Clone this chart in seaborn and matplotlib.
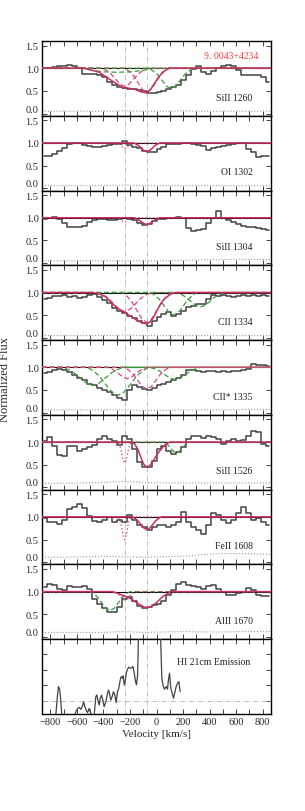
import matplotlib
matplotlib.use("Agg")
import matplotlib.pyplot as plt
import seaborn as sns
from matplotlib.ticker import MultipleLocator, FixedLocator, NullFormatter

sns.set_style("ticks")
plt.rcParams["font.family"] = ["Liberation Serif", "DejaVu Serif"]
plt.rcParams["axes.unicode_minus"] = True

# ---------------- data ----------------
SIGHTLINE = "9. 0043+4234"
LINE_NAMES = ["SiII 1260", "OI 1302", "SiII 1304", "CII 1334",
              "CII* 1335", "SiII 1526", "FeII 1608", "AlII 1670"]
COMP_V = [-240, -73]

V_BIN = [-844, -806, -769, -731, -694, -656, -619, -581, -544, -506, -469, -431,
         -394, -356, -319, -281, -244, -206, -169, -131, -94, -56, -19,
         19, 56, 94, 131, 169, 206, 244, 281, 319, 356, 394, 431, 469, 506,
         544, 581, 619, 656, 694, 731, 769, 806, 844]

SIII1260 = [1.00, 1.01, 1.03, 1.05, 1.04, 1.07, 1.05, 1.00, 0.88, 0.88, 0.87, 0.85,
            0.80, 0.70, 0.62, 0.59, 0.57, 0.55, 0.54, 0.52, 0.49, 0.46, 0.46,
            0.48, 0.50, 0.53, 0.58, 0.64, 0.73, 0.86, 0.98, 1.04, 0.92, 0.88, 0.93,
            1.00, 1.04, 1.06, 1.04, 0.97, 0.86, 0.85, 0.84, 0.85, 0.80, 0.70]
OI1302 = [0.71, 0.71, 0.75, 0.82, 0.90, 0.97, 1.01, 1.00, 0.96, 0.93, 0.91, 0.92,
          0.94, 0.96, 0.97, 0.98, 1.04, 0.96, 0.91, 0.88, 0.83, 0.80, 0.81,
          0.86, 0.92, 0.97, 0.98, 0.97, 0.99, 1.00, 0.97, 0.96, 0.93, 0.85, 0.88,
          0.92, 0.94, 0.96, 0.98, 1.00, 1.01, 0.87, 0.79, 0.69, 0.71, 0.72]
SIII1304 = [0.97, 0.99, 1.02, 0.97, 0.88, 0.80, 0.79, 0.79, 0.82, 0.90, 0.96, 0.98,
            0.97, 0.96, 0.96, 0.97, 0.99, 0.98, 0.94, 0.88, 0.85, 0.86, 0.92,
            0.97, 0.98, 0.99, 1.00, 1.01, 1.00, 0.78, 0.70, 0.72, 0.76, 0.88, 1.00,
            1.14, 0.99, 0.94, 0.91, 0.87, 0.82, 0.79, 0.80, 0.78, 0.76, 0.74]
CII1334 = [0.86, 0.89, 0.92, 0.93, 0.94, 0.90, 0.92, 0.87, 0.90, 0.95, 0.96, 0.90,
           0.84, 0.76, 0.66, 0.59, 0.54, 0.49, 0.44, 0.38, 0.33, 0.27, 0.38,
           0.45, 0.53, 0.56, 0.49, 0.53, 0.60, 0.67, 0.71, 0.74, 0.75, 0.86, 0.95,
           0.93, 0.94, 0.92, 0.90, 0.92, 0.95, 0.93, 0.94, 0.92, 0.94, 0.92]
CIIS1335 = [0.88, 0.89, 0.93, 0.96, 0.94, 0.89, 0.82, 0.76, 0.71, 0.63, 0.60, 0.54,
            0.49, 0.45, 0.38, 0.32, 0.27, 0.49, 0.60, 0.56, 0.52, 0.49, 0.54,
            0.60, 0.63, 0.67, 0.71, 0.76, 0.82, 0.93, 0.93, 0.91, 0.90, 0.92, 0.91,
            0.90, 0.91, 0.90, 0.92, 0.91, 0.94, 0.96, 1.07, 1.06, 1.04, 1.03]
SIII1526 = [1.03, 1.11, 0.92, 0.72, 0.70, 0.91, 0.91, 0.81, 0.85, 0.89, 0.94, 1.07,
            1.13, 1.07, 1.03, 0.94, 1.14, 1.07, 0.85, 0.56, 0.45, 0.46, 0.59,
            0.85, 0.91, 0.81, 0.74, 0.79, 0.89, 1.07, 1.13, 1.13, 1.10, 1.13, 1.11,
            1.07, 0.96, 1.03, 1.07, 1.03, 1.05, 1.14, 1.25, 1.22, 0.96, 0.92]
FEII1608 = [0.97, 0.88, 0.88, 0.85, 0.92, 1.18, 1.21, 1.29, 1.19, 1.01, 0.90, 0.88,
            0.92, 0.99, 0.88, 0.94, 0.88, 1.05, 0.92, 0.83, 0.77, 0.70, 0.77,
            0.81, 0.82, 0.77, 0.81, 0.88, 1.10, 0.88, 0.77, 0.70, 0.62, 0.81, 1.09,
            1.04, 0.94, 0.87, 0.94, 1.09, 1.21, 1.09, 0.92, 0.97, 0.88, 0.82]
ALII1670 = [1.10, 1.17, 1.14, 1.06, 1.03, 1.12, 1.10, 1.10, 1.12, 1.06, 0.84, 0.73,
            0.64, 0.56, 0.56, 0.66, 0.84, 0.88, 0.80, 0.69, 0.64, 0.66, 0.71,
            0.73, 0.80, 0.92, 1.03, 1.17, 1.21, 1.14, 1.12, 1.10, 1.06, 1.12, 1.14,
            1.06, 0.99, 0.92, 0.93, 0.97, 0.99, 1.08, 1.03, 0.93, 0.90, 0.90]

# error spectra (coarse)
E_V = [-862, -700, -550, -400, -250, -100, 50, 200, 350, 500, 650, 862]
ERR_SIII1260 = [0.05, 0.05, 0.05, 0.05, 0.06, 0.05, 0.05, 0.06, 0.05, 0.05, 0.05, 0.05]
ERR_OI1302 = [0.06, 0.06, 0.06, 0.06, 0.07, 0.06, 0.06, 0.06, 0.06, 0.06, 0.06, 0.06]
ERR_SIII1304 = [0.05, 0.05, 0.05, 0.05, 0.05, 0.05, 0.05, 0.06, 0.07, 0.08, 0.08, 0.08]
ERR_CII1334 = [0.05, 0.05, 0.05, 0.05, 0.06, 0.05, 0.05, 0.05, 0.05, 0.05, 0.05, 0.05]
ERR_CIIS1335 = [0.06, 0.06, 0.06, 0.06, 0.06, 0.05, 0.05, 0.06, 0.06, 0.06, 0.07, 0.07]
ERR_SIII1526 = [0.09, 0.09, 0.10, 0.11, 0.13, 0.11, 0.10, 0.10, 0.10, 0.10, 0.10, 0.10]
ERR_FEII1608 = [0.11, 0.11, 0.12, 0.13, 0.12, 0.11, 0.12, 0.13, 0.17, 0.19, 0.19, 0.17]
ERR_ALII1670 = [0.10, 0.10, 0.10, 0.10, 0.12, 0.10, 0.11, 0.12, 0.11, 0.11, 0.12, 0.12]

# model curves: (velocity, flux) knots
SIII1260_TOT = ([-862, -544, -431, -319, -256, -218, -169, -119, -73, -43, 6, 45, 95, 862],
                [1, 1, 0.91, 0.69, 0.58, 0.56, 0.54, 0.48, 0.455, 0.54, 0.76, 0.91, 1, 1])
SIII1260_R1 = ([-862, -410, -376, -342, -308, -274, -240, -206, -172, -138, -104, -70, 862],
               [1, 1, 0.95, 0.87, 0.76, 0.65, 0.60, 0.65, 0.76, 0.87, 0.95, 1, 1])
SIII1260_R2 = ([-862, -238, -205, -172, -139, -106, -73, -40, -7, 26, 59, 92, 862],
               [1, 1, 0.93, 0.83, 0.68, 0.53, 0.47, 0.53, 0.68, 0.83, 0.93, 1, 1])
SIII1260_G1 = ([-862, -560, -480, -400, -300, -200, -100, -40, 862],
               [1, 1, 0.95, 0.92, 0.91, 0.92, 0.95, 1, 1])
SIII1260_G2 = ([-862, -60, -26, 8, 42, 76, 110, 144, 178, 212, 246, 280, 862],
               [1, 1, 0.94, 0.86, 0.73, 0.60, 0.55, 0.60, 0.73, 0.86, 0.94, 1, 1])

OI1302_TOT = ([-862, -173, -153, -133, -113, -93, -73, -53, -33, -13, 7, 27, 862],
              [1, 1, 0.975, 0.94, 0.88, 0.83, 0.81, 0.83, 0.88, 0.94, 0.975, 1, 1])
OI1302_D = ([-862, -295, -284, -273, -262, -251, -240, -229, -218, -207, -196, -185, 862],
            [1, 1, 0.98, 0.96, 0.92, 0.89, 0.87, 0.89, 0.92, 0.96, 0.98, 1, 1])

SIII1304_TOT = ([-862, -173, -153, -133, -113, -93, -73, -53, -33, -13, 7, 27, 862],
                [1, 1, 0.98, 0.95, 0.91, 0.87, 0.85, 0.87, 0.91, 0.95, 0.98, 1, 1])
SIII1304_D = ([-862, -290, -280, -270, -260, -250, -240, -230, -220, -210, -200, -190, 862],
              [1, 1, 0.99, 0.97, 0.94, 0.91, 0.90, 0.91, 0.94, 0.97, 0.99, 1, 1])

CII1334_TOT = ([-862, -480, -430, -380, -319, -280, -240, -190, -144, -105, -73, -45, -19,
                5, 30, 60, 94, 120, 150, 862],
               [1, 1, 0.97, 0.90, 0.72, 0.63, 0.56, 0.47, 0.38, 0.33, 0.31, 0.36, 0.47,
                0.61, 0.74, 0.86, 0.94, 0.98, 1, 1])
CII1334_R1 = ([-862, -440, -400, -360, -320, -280, -240, -200, -160, -120, -80, -40, 862],
              [1, 1, 0.945, 0.866, 0.744, 0.63, 0.58, 0.63, 0.744, 0.866, 0.945, 1, 1])
CII1334_R2 = ([-862, -258, -221, -184, -147, -110, -73, -36, 1, 38, 75, 112, 862],
              [1, 1, 0.914, 0.79, 0.60, 0.42, 0.34, 0.42, 0.60, 0.79, 0.914, 1, 1])
CII1334_G1 = ([-862, -45, -10, 25, 60, 95, 130, 165, 200, 235, 270, 305, 862],
              [1, 1, 0.935, 0.84, 0.695, 0.56, 0.50, 0.56, 0.695, 0.84, 0.935, 1, 1])
CII1334_G2 = ([-862, 150, 186, 222, 258, 294, 330, 366, 402, 438, 474, 510, 862],
              [1, 1, 0.958, 0.898, 0.805, 0.718, 0.68, 0.718, 0.805, 0.898, 0.958, 1, 1])

CIIS1335_G1 = ([-862, -710, -664, -618, -572, -526, -480, -434, -388, -342, -296, -250, 862],
               [1, 1, 0.948, 0.872, 0.756, 0.648, 0.60, 0.648, 0.756, 0.872, 0.948, 1, 1])
CIIS1335_G2 = ([-862, -520, -474, -428, -382, -336, -290, -244, -198, -152, -106, -60, 862],
               [1, 1, 0.919, 0.80, 0.62, 0.454, 0.38, 0.454, 0.62, 0.80, 0.919, 1, 1])
CIIS1335_R1 = ([-862, -370, -340, -310, -280, -250, -220, -190, -160, -130, -100, -70, 862],
               [1, 1, 0.97, 0.92, 0.85, 0.78, 0.75, 0.78, 0.85, 0.92, 0.97, 1, 1])
CIIS1335_R2 = ([-862, -243, -209, -175, -141, -107, -73, -39, -5, 29, 63, 97, 862],
               [1, 1, 0.938, 0.846, 0.707, 0.578, 0.52, 0.578, 0.707, 0.846, 0.938, 1, 1])
CIIS1335_G3 = ([-862, -50, -12, 26, 64, 102, 140, 178, 216, 254, 292, 330, 862],
               [1, 1, 0.965, 0.914, 0.835, 0.762, 0.73, 0.762, 0.835, 0.914, 0.965, 1, 1])

SIII1526_TOT = ([-862, -190, -165, -140, -115, -94, -73, -52, -30, -5, 20, 45, 70, 100, 862],
                [1, 1, 0.96, 0.84, 0.64, 0.50, 0.45, 0.48, 0.56, 0.68, 0.79, 0.88, 0.95, 1, 1])
SIII1526_D = ([-862, -290, -280, -270, -260, -250, -240, -230, -220, -210, -200, -190, 862],
              [1, 1, 0.94, 0.853, 0.719, 0.595, 0.54, 0.595, 0.719, 0.853, 0.94, 1, 1])
SIII1526_G = ([-862, 50, 70, 90, 110, 130, 150, 170, 190, 210, 230, 250, 862],
              [1, 1, 0.969, 0.923, 0.854, 0.789, 0.76, 0.789, 0.854, 0.923, 0.969, 1, 1])

FEII1608_TOT = ([-862, -183, -161, -139, -117, -95, -73, -51, -29, -7, 15, 37, 862],
                [1, 1, 0.964, 0.91, 0.829, 0.754, 0.72, 0.754, 0.829, 0.91, 0.964, 1, 1])
FEII1608_D = ([-862, -285, -276, -267, -258, -249, -240, -231, -222, -213, -204, -195, 862],
              [1, 1, 0.935, 0.84, 0.695, 0.56, 0.50, 0.56, 0.695, 0.84, 0.935, 1, 1])

ALII1670_TOT = ([-862, -330, -290, -240, -190, -140, -100, -73, -40, 0, 50, 110, 862],
                [1, 1, 0.96, 0.90, 0.84, 0.74, 0.67, 0.64, 0.67, 0.76, 0.90, 1, 1])
ALII1670_D = ([-862, -320, -304, -288, -272, -256, -240, -224, -208, -192, -176, -160, 862],
              [1, 1, 0.977, 0.942, 0.89, 0.842, 0.82, 0.842, 0.89, 0.942, 0.977, 1, 1])
ALII1670_G = ([-862, -500, -470, -440, -410, -380, -350, -320, -290, -260, -230, -200, 862],
              [1, 1, 0.945, 0.866, 0.744, 0.63, 0.58, 0.63, 0.744, 0.866, 0.945, 1, 1])

# HI 21cm emission (arbitrary units)
HI_V = [-800, -775, -758, -745, -738, -728, -720, -713, -700, -680, -660, -640, -620,
        -607, -594, -582, -569, -557, -549, -539, -529, -519, -507, -499, -487, -469,
        -457, -449, -439, -431, -424, -414, -404, -394, -381, -369, -361, -351, -344,
        -334, -324, -314, -304, -294, -284, -273, -266, -258, -251, -243, -236, -228,
        -218, -208, -198, -188, -178, -168, -158, -151, -143, -138, -133, -110, -90,
        -70, -50, -30, -10, 10, 28, 33, 40, 50, 60, 73, 83, 90, 98, 108, 118, 128,
        138, 148, 158, 168, 178]
HI_T = [-1.0, -1.0, -0.9, 0.39, 0.93, 0.71, -0.05, -0.9, -1.0, -1.0, -1.0, -1.0, -1.0,
        -0.69, -0.48, -0.41, -0.54, -0.33, -0.05, -0.37, -0.59, -0.76, -0.48, -0.69, -0.9,
        -0.9, 0.28, 0.39, -0.05, -0.26, 0.17, 0.37, 0.06, -0.37, -0.05, 0.49, 0.71, 0.39,
        0.06, 0.28, 0.6, 0.39, -0.11, 0.6, 0.82, 1.36, 1.57, 1.47, 1.62, 1.04, 1.25, 1.79,
        2.05, 2.18, 2.12, 2.12, 2.23, 1.84, 1.25, 1.04, 1.57, 3.2, 6.0, 12.0, 18.0, 22.0,
        20.0, 15.0, 10.0, 7.0, 5.0, 3.5, 1.47, 0.97, 0.76, 0.93, 0.76, 1.36, 1.79, 0.82,
        0.49, 0.17, 0.54, 0.93, 1.14, 1.25, 0.6]

# ---------------- styling ----------------
C_DATA = "#434343"
C_TOT = "#c9305f"
C_RED = "#d8497a"
C_DOT = "#e0508a"
C_GRN = "#3a9a3a"
C_ERR = "#9a9a9a"
C_VL = "#b4b4b4"
DASH = (0, (4.0, 2.2))
DASHDOT = (0, (6, 2, 1, 2))

FLUX = [SIII1260, OI1302, SIII1304, CII1334, CIIS1335, SIII1526, FEII1608, ALII1670]
ERRS = [ERR_SIII1260, ERR_OI1302, ERR_SIII1304, ERR_CII1334, ERR_CIIS1335,
        ERR_SIII1526, ERR_FEII1608, ERR_ALII1670]
MODELS = [
    [("r", SIII1260_R1), ("r", SIII1260_R2), ("g", SIII1260_G1), ("g", SIII1260_G2),
     ("t", SIII1260_TOT)],
    [("d", OI1302_D), ("t", OI1302_TOT)],
    [("d", SIII1304_D), ("t", SIII1304_TOT)],
    [("r", CII1334_R1), ("r", CII1334_R2), ("g", CII1334_G1), ("g", CII1334_G2),
     ("t", CII1334_TOT)],
    [("g", CIIS1335_G1), ("g", CIIS1335_G2), ("g", CIIS1335_G3),
     ("r", CIIS1335_R1), ("r", CIIS1335_R2)],
    [("d", SIII1526_D), ("g", SIII1526_G), ("t", SIII1526_TOT)],
    [("d", FEII1608_D), ("t", FEII1608_TOT)],
    [("g", ALII1670_G), ("d", ALII1670_D), ("t", ALII1670_TOT)],
]
STYLE = {"t": (C_TOT, "-", 1.1), "r": (C_RED, DASH, 0.9),
         "g": (C_GRN, DASH, 0.9), "d": (C_DOT, ":", 1.0)}

W, H = 305, 812
fig, axes = plt.subplots(9, 1, figsize=(W / 100, H / 100), dpi=100, sharex=True)
fig.subplots_adjust(left=42 / W, right=271 / W, top=1 - 42 / H, bottom=1 - 715 / H, hspace=0)

XL = (-862, 862)


def line(ax, x, y, color, ls, lw, steps=False, z=2):
    sns.lineplot(x=x, y=y, ax=ax, color=color, linestyle=ls, linewidth=lw,
                 estimator=None, sort=False, legend=False, zorder=z,
                 drawstyle="steps-mid" if steps else "default")


def style_axis(ax):
    ax.set_xlim(*XL)
    ax.xaxis.set_major_locator(MultipleLocator(200))
    ax.xaxis.set_minor_locator(MultipleLocator(100))
    ax.tick_params(axis="both", which="both", direction="in", top=True, right=True,
                   length=3.5, width=0.6, labelsize=7.5, pad=2.5)
    for s in ax.spines.values():
        s.set_linewidth(1.0)
        s.set_color("black")
    ax.set_xlabel("")
    ax.set_ylabel("")


for i, ax in enumerate(axes[:8]):
    for v in COMP_V:
        ax.axvline(v, color=C_VL, lw=0.6, ls=DASHDOT, zorder=1)
    line(ax, E_V, ERRS[i], C_ERR, ":", 0.8, z=2)
    line(ax, V_BIN, FLUX[i], C_DATA, "-", 1.1, steps=True, z=3)
    ax.axhline(1.0, color="black", lw=0.8, zorder=3)
    for kind, (mv, mf) in MODELS[i]:
        c, ls, lw = STYLE[kind]
        line(ax, mv, mf, c, ls, lw, z=5 if kind == "t" else 4)
    style_axis(ax)
    ax.set_ylim(-0.05, 1.6)
    ax.yaxis.set_major_locator(FixedLocator([0.0, 0.5, 1.0, 1.5]))
    ax.set_yticklabels(["0.0", "0.5", "1.0", "1.5"])
    ax.tick_params(axis="x", labelbottom=False)
    ax.text(0.92, 0.25, LINE_NAMES[i], transform=ax.transAxes, ha="right",
            va="center", fontsize=7, color="#222222")
    # keep the 0.0 label above its tick so it does not run into the next panel's 1.5
    ax.yaxis.get_major_ticks()[0].label1.set_va("bottom")

axes[0].text(0.943, 0.81, SIGHTLINE, transform=axes[0].transAxes, ha="right",
             va="center", fontsize=7, color="#ff3b3b")

# HI panel
axh = axes[8]
for v in COMP_V:
    axh.axvline(v, color=C_VL, lw=0.6, ls=DASHDOT, zorder=1)
axh.axhline(0.0, color=C_VL, lw=0.6, ls=DASHDOT, zorder=1)
line(axh, HI_V, HI_T, C_DATA, "-", 0.9, z=3)
style_axis(axh)
axh.set_ylim(-0.84, 3.98)
axh.yaxis.set_major_locator(FixedLocator([0, 1, 2, 3]))
axh.yaxis.set_major_formatter(NullFormatter())
axh.text(0.908, 0.70, "HI 21cm Emission", transform=axh.transAxes, ha="right",
         va="center", fontsize=7, color="#222222")
axh.set_xlabel("Velocity [km/s]", fontsize=8, labelpad=1.5)

fig.text(5 / W, 1 - 380 / H, "Normalized Flux", rotation=90, ha="center",
         va="center", fontsize=9)

fig.savefig("out.png", dpi=100)
